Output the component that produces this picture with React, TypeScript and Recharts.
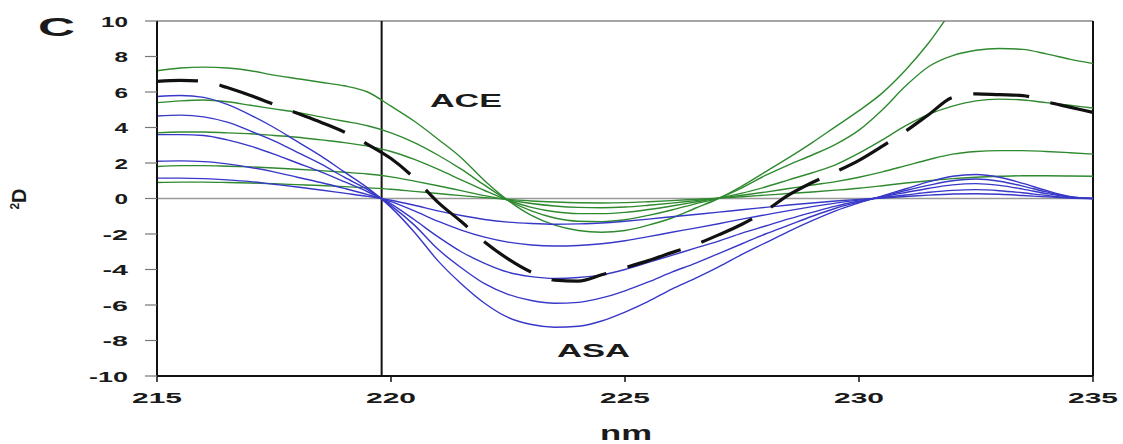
import { LineChart, Line, XAxis, YAxis, ReferenceLine } from "recharts";

// wavelength grid (nm)
const nm = [
  215, 215.5, 216, 216.5, 217, 217.5, 218, 218.5, 219, 219.5, 220, 220.5, 221, 221.5,
  222, 222.5, 223, 223.5, 224, 224.5, 225, 225.5, 226, 226.5, 227, 227.5, 228, 228.5,
  229, 229.5, 230, 230.5, 231, 231.5, 232, 232.5, 233, 233.5, 234, 234.5, 235,
];

// ACE spectra (green)
const ace1 = [7.2, 7.35, 7.4, 7.35, 7.2, 6.95, 6.75, 6.55, 6.35, 6.0, 5.2, 4.35, 3.35, 2.3, 1.0, -0.1, -0.95, -1.5, -1.8, -1.9, -1.8, -1.5, -1.1, -0.55, 0.0, 0.7, 1.5, 2.3, 3.15, 4.05, 4.95, 5.95, 7.25, 8.8, 10.6, 11.9, 12.5, 12.6, 12.4, 12.0, 11.6];
const ace2 = [5.4, 5.5, 5.55, 5.45, 5.25, 5.05, 4.85, 4.6, 4.35, 4.1, 3.7, 3.15, 2.45, 1.65, 0.75, -0.1, -0.7, -1.1, -1.28, -1.3, -1.2, -0.95, -0.65, -0.3, 0.02, 0.6, 1.3, 1.9, 2.45, 3.05, 3.85, 5.0, 6.35, 7.45, 8.05, 8.35, 8.45, 8.4, 8.15, 7.85, 7.6];
const ace3 = [3.7, 3.75, 3.75, 3.7, 3.65, 3.55, 3.45, 3.3, 3.15, 2.95, 2.65, 2.2, 1.65, 1.05, 0.45, -0.1, -0.5, -0.75, -0.85, -0.85, -0.78, -0.62, -0.42, -0.2, 0.02, 0.3, 0.65, 1.05, 1.45, 1.9, 2.55, 3.3, 4.1, 4.75, 5.2, 5.5, 5.6, 5.55, 5.4, 5.25, 5.1];
const ace4 = [1.8, 1.85, 1.85, 1.82, 1.78, 1.72, 1.65, 1.57, 1.48, 1.38, 1.22, 0.98, 0.72, 0.44, 0.16, -0.08, -0.28, -0.42, -0.5, -0.52, -0.48, -0.38, -0.26, -0.12, 0.02, 0.18, 0.36, 0.56, 0.76, 0.95, 1.2, 1.5, 1.85, 2.2, 2.5, 2.65, 2.7, 2.7, 2.65, 2.58, 2.5];
const ace5 = [0.9, 0.92, 0.92, 0.9, 0.87, 0.83, 0.78, 0.73, 0.67, 0.6, 0.52, 0.4, 0.28, 0.16, 0.05, -0.05, -0.14, -0.2, -0.24, -0.25, -0.23, -0.18, -0.12, -0.05, 0.02, 0.1, 0.19, 0.28, 0.37, 0.47, 0.58, 0.72, 0.87, 1.0, 1.12, 1.2, 1.25, 1.28, 1.28, 1.27, 1.25];

// ASA spectra (blue)
const asa1 = [5.75, 5.8, 5.7, 5.3, 4.7, 4.0, 3.2, 2.4, 1.5, 0.6, -0.5, -1.9, -3.5, -4.8, -5.9, -6.7, -7.1, -7.25, -7.2, -6.9, -6.4, -5.8, -5.1, -4.5, -3.85, -3.15, -2.5, -1.85, -1.25, -0.7, -0.25, 0.15, 0.55, 0.95, 1.25, 1.35, 1.2, 0.85, 0.45, 0.12, 0];
const asa2 = [4.65, 4.7, 4.6, 4.3, 3.8, 3.25, 2.6, 1.95, 1.2, 0.5, -0.4, -1.5, -2.85, -3.9, -4.8, -5.4, -5.75, -5.9, -5.85, -5.6, -5.2, -4.7, -4.15, -3.65, -3.1, -2.55, -2.0, -1.5, -1.0, -0.55, -0.2, 0.12, 0.45, 0.75, 1.0, 1.1, 0.97, 0.7, 0.37, 0.1, 0];
const asa3 = [3.6, 3.6, 3.55, 3.3, 2.95, 2.5, 2.0, 1.5, 0.95, 0.38, -0.3, -1.2, -2.15, -3.0, -3.65, -4.15, -4.4, -4.5, -4.45, -4.3, -4.0, -3.6, -3.2, -2.8, -2.4, -1.95, -1.55, -1.15, -0.78, -0.43, -0.15, 0.1, 0.34, 0.58, 0.77, 0.84, 0.74, 0.53, 0.28, 0.08, 0];
const asa4 = [2.1, 2.12, 2.08, 1.95, 1.75, 1.5, 1.2, 0.9, 0.57, 0.22, -0.18, -0.7, -1.28, -1.78, -2.18, -2.46, -2.62, -2.68, -2.65, -2.55, -2.38, -2.15, -1.9, -1.67, -1.42, -1.16, -0.92, -0.68, -0.46, -0.26, -0.09, 0.06, 0.2, 0.35, 0.46, 0.5, 0.44, 0.32, 0.17, 0.05, 0];
const asa5 = [1.15, 1.15, 1.12, 1.05, 0.95, 0.8, 0.65, 0.48, 0.3, 0.12, -0.1, -0.38, -0.7, -0.96, -1.18, -1.33, -1.41, -1.45, -1.43, -1.38, -1.28, -1.16, -1.03, -0.9, -0.77, -0.63, -0.5, -0.37, -0.25, -0.14, -0.05, 0.03, 0.11, 0.19, 0.25, 0.27, 0.24, 0.17, 0.09, 0.03, 0];

// dashed black curve
const mean = [6.6, 6.65, 6.6, 6.25, 5.8, 5.3, 4.8, 4.3, 3.75, 3.05, 2.25, 1.15, -0.2, -1.3, -2.45, -3.4, -4.15, -4.6, -4.65, -4.3, -3.9, -3.5, -3.05, -2.6, -2.05, -1.45, -0.7, 0.2, 0.9, 1.5, 2.15, 2.95, 3.8, 4.75, 5.7, 5.9, 5.85, 5.8, 5.45, 5.15, 4.85];

const xTicks = [215, 220, 225, 230, 235];
const yTicks = [-10, -8, -6, -4, -2, 0, 2, 4, 6, 8, 10];

const aceKeys = ["ace1", "ace2", "ace3", "ace4", "ace5"];
const asaKeys = ["asa1", "asa2", "asa3", "asa4", "asa5"];

const data = nm.map((x, i) => ({
  x,
  ace1: ace1[i],
  ace2: ace2[i],
  ace3: ace3[i],
  ace4: ace4[i],
  ace5: ace5[i],
  asa1: asa1[i],
  asa2: asa2[i],
  asa3: asa3[i],
  asa4: asa4[i],
  asa5: asa5[i],
  mean: mean[i],
}));

const FONT = "'Liberation Sans', Arial, sans-serif";
const GREEN = "#2f8a2f";
const BLUE = "#3838c8";

const YTick = ({ x, y, payload }: any) => {
  const s = String(payload.value);
  const w = s.replace("-", "").length * 13.5 + (s.startsWith("-") ? 12 : 0);
  return (
    <text x={x} y={y} dy={5.5} textAnchor="end" fontFamily={FONT} fontWeight="bold"
      fontSize={15} fill="#1a1a1a" textLength={w} lengthAdjust="spacingAndGlyphs">
      {s}
    </text>
  );
};

const XTick = ({ x, y, payload }: any) => (
  <text x={x} y={y} dy={13} textAnchor="middle" fontFamily={FONT} fontWeight="bold"
    fontSize={15} fill="#1a1a1a" textLength={50} lengthAdjust="spacingAndGlyphs">
    {payload.value}
  </text>
);

export default function App() {
  return (
    <div style={{ position: "absolute", left: 0, top: 0, width: 1123, height: 444, background: "#fff" }}>
      <LineChart width={1123} height={444} data={data}
        margin={{ top: 21, right: 30, bottom: 38, left: 97 }}>
        <XAxis dataKey="x" type="number" domain={[215, 235]} ticks={xTicks}
          height={30} tick={<XTick />} tickSize={6} tickMargin={8}
          axisLine={{ stroke: "#111", strokeWidth: 2 }} tickLine={{ stroke: "#111", strokeWidth: 1.5 }} />
        <YAxis type="number" domain={[-10, 10]} ticks={yTicks} allowDataOverflow
          width={60} tick={<YTick />} tickSize={12} tickMargin={17} interval={0}
          axisLine={{ stroke: "#111", strokeWidth: 2 }} tickLine={{ stroke: "#777", strokeWidth: 1.2 }} />
        <ReferenceLine y={10} stroke="#888" strokeWidth={1.5} />
        <ReferenceLine x={235} stroke="#111" strokeWidth={2} />
        <ReferenceLine y={0} stroke="#999" strokeWidth={1.5} />
        <ReferenceLine x={219.8} stroke="#111" strokeWidth={2} />
        {aceKeys.map((k) => (
          <Line key={k} type="monotone" dataKey={k} stroke={GREEN} strokeWidth={1.4}
            dot={false} isAnimationActive={false} />
        ))}
        {asaKeys.map((k) => (
          <Line key={k} type="monotone" dataKey={k} stroke={BLUE} strokeWidth={1.4}
            dot={false} isAnimationActive={false} />
        ))}
        <Line type="monotone" dataKey="mean" stroke="#111" strokeWidth={3.2}
          strokeDasharray="56 22" strokeDashoffset={15} dot={false} isAnimationActive={false} />
      </LineChart>
      <svg width={1123} height={444}
        style={{ position: "absolute", left: 0, top: 0, pointerEvents: "none" }}>
        <g fontFamily={FONT} fontWeight="bold" fill="#1a1a1a">
          <text x={38} y={36} fontSize={25} textLength={37} lengthAdjust="spacingAndGlyphs">C</text>
          <text x={430} y={107} fontSize={18} textLength={72} lengthAdjust="spacingAndGlyphs">ACE</text>
          <text x={557} y={357} fontSize={18} textLength={73} lengthAdjust="spacingAndGlyphs">ASA</text>
          <text x={626} y={440} fontSize={20} textAnchor="middle" textLength={52}
            lengthAdjust="spacingAndGlyphs">nm</text>
          <text transform="translate(26,199) rotate(-90)" fontSize={20} textAnchor="middle">
            <tspan fontSize={12} dy={-7}>2</tspan>
            <tspan dy={7}>D</tspan>
          </text>
        </g>
      </svg>
    </div>
  );
}
